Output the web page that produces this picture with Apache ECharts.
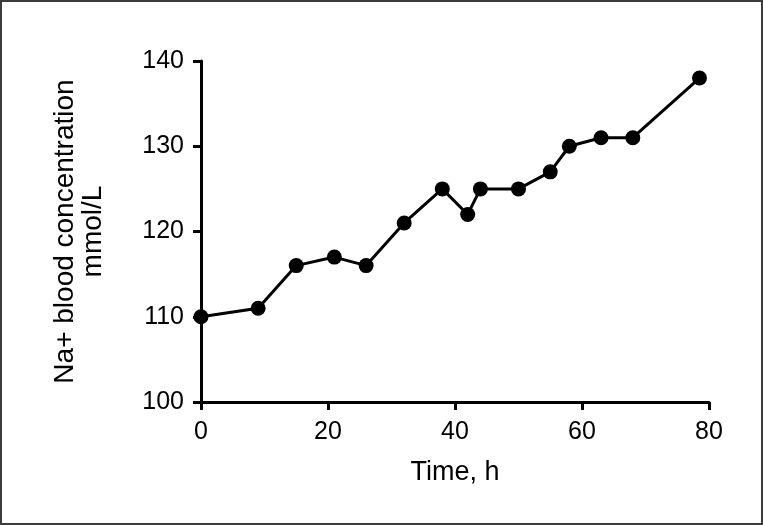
<!DOCTYPE html>
<html>
<head>
<meta charset="utf-8">
<script src="https://cdn.jsdelivr.net/npm/echarts@6/dist/echarts.min.js"></script>
<style>
html,body{margin:0;padding:0;background:#fff;}
#frame{width:763px;height:525px;box-sizing:border-box;border:2px solid #3c3c3c;position:relative;}
#chart{position:absolute;left:-2px;top:-2px;width:763px;height:525px;}
</style>
</head>
<body>
<div id="frame"><div id="chart"></div></div>
<script>
var timeHours = [0, 9, 15, 21, 26, 32, 38, 42, 44, 50, 55, 58, 63, 68, 78.5];
var sodium = [110, 111, 116, 117, 116, 121, 125, 122, 125, 125, 127, 130, 131, 131, 138];
var xTicks = [0, 20, 40, 60, 80];
var yTicks = [100, 110, 120, 130, 140];
var xName = 'Time, h';
var yName = 'Na+ blood concentration\nmmol/L';

var chart = echarts.init(document.getElementById('chart'), null, {renderer: 'canvas'});
var font = 'Liberation Sans, Arial, sans-serif';
chart.setOption({
  animation: false,
  grid: {left: 201, right: 54, top: 61, bottom: 123, containLabel: false},
  xAxis: {
    type: 'value', min: xTicks[0], max: xTicks[xTicks.length-1], interval: 20,
    name: xName, nameLocation: 'middle', nameGap: 57,
    nameTextStyle: {fontFamily: font, fontSize: 27, color: '#000'},
    axisLine: {lineStyle: {color: '#000', width: 3}},
    axisTick: {length: 8, lineStyle: {color: '#000', width: 3}},
    axisLabel: {fontFamily: font, fontSize: 25, color: '#000', margin: 18},
    splitLine: {show: false}
  },
  yAxis: {
    type: 'value', min: yTicks[0], max: yTicks[yTicks.length-1], interval: 10,
    name: yName, nameLocation: 'middle', nameGap: 94, nameRotate: 90,
    nameTextStyle: {fontFamily: font, fontSize: 28, color: '#000', lineHeight: 28},
    axisLine: {show: true, lineStyle: {color: '#000', width: 3}},
    axisTick: {show: true, length: 8, lineStyle: {color: '#000', width: 3}},
    axisLabel: {fontFamily: font, fontSize: 25, color: '#000', margin: 17},
    splitLine: {show: false}
  },
  series: [{
    type: 'line',
    data: timeHours.map(function(t, i){ return [t, sodium[i]]; }),
    symbol: 'circle', symbolSize: 15,
    lineStyle: {color: '#000', width: 3},
    itemStyle: {color: '#000'},
    clip: false
  }]
});
</script>
</body>
</html>
